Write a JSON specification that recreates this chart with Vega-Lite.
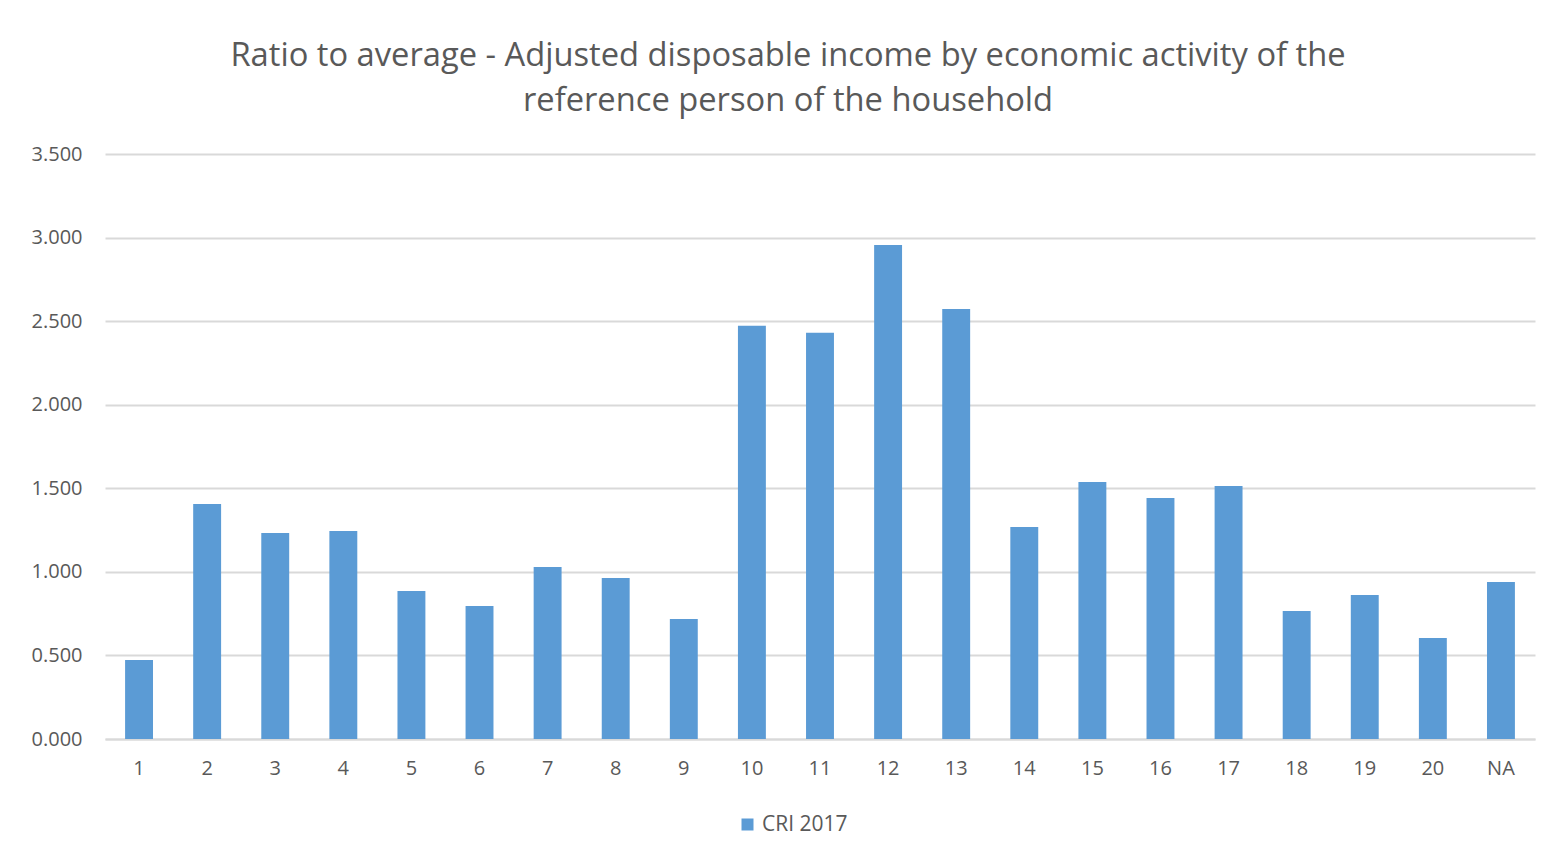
{
  "$schema": "https://vega.github.io/schema/vega-lite/v6.json",
  "autosize": "none",
  "width": 1430,
  "height": 585,
  "padding": {"left": 105, "top": 154, "right": 17, "bottom": 117},
  "background": "white",
  "title": {
    "text": ["Ratio to average - Adjusted disposable income by economic activity of the", "reference person of the household"],
    "font": "Open Sans",
    "fontSize": 32.7,
    "fontWeight": "normal",
    "color": "#595959",
    "anchor": "middle",
    "dx": -32,
    "offset": 26,
    "lineHeight": 45
  },
  "data": {
    "values": [
      {"activity": "1", "value": 0.473, "series": "CRI 2017"},
      {"activity": "2", "value": 1.406, "series": "CRI 2017"},
      {"activity": "3", "value": 1.233, "series": "CRI 2017"},
      {"activity": "4", "value": 1.245, "series": "CRI 2017"},
      {"activity": "5", "value": 0.886, "series": "CRI 2017"},
      {"activity": "6", "value": 0.796, "series": "CRI 2017"},
      {"activity": "7", "value": 1.029, "series": "CRI 2017"},
      {"activity": "8", "value": 0.963, "series": "CRI 2017"},
      {"activity": "9", "value": 0.718, "series": "CRI 2017"},
      {"activity": "10", "value": 2.472, "series": "CRI 2017"},
      {"activity": "11", "value": 2.430, "series": "CRI 2017"},
      {"activity": "12", "value": 2.956, "series": "CRI 2017"},
      {"activity": "13", "value": 2.573, "series": "CRI 2017"},
      {"activity": "14", "value": 1.269, "series": "CRI 2017"},
      {"activity": "15", "value": 1.538, "series": "CRI 2017"},
      {"activity": "16", "value": 1.442, "series": "CRI 2017"},
      {"activity": "17", "value": 1.514, "series": "CRI 2017"},
      {"activity": "18", "value": 0.766, "series": "CRI 2017"},
      {"activity": "19", "value": 0.862, "series": "CRI 2017"},
      {"activity": "20", "value": 0.604, "series": "CRI 2017"},
      {"activity": "NA", "value": 0.940, "series": "CRI 2017"}
    ]
  },
  "mark": {"type": "bar", "color": "#5b9bd5"},
  "encoding": {
    "x": {
      "field": "activity",
      "type": "nominal",
      "sort": null,
      "scale": {"paddingInner": 0.59, "paddingOuter": 0.295},
      "axis": {
        "title": null,
        "labelAngle": 0,
        "labelFont": "Open Sans",
        "labelFontSize": 20,
        "labelColor": "#595959",
        "labelPadding": 19,
        "ticks": false,
        "domainColor": "#d9d9d9",
        "domainWidth": 2,
        "grid": false
      }
    },
    "y": {
      "field": "value",
      "type": "quantitative",
      "scale": {"domain": [0, 3.5], "nice": false},
      "axis": {
        "title": null,
        "values": [0, 0.5, 1, 1.5, 2, 2.5, 3, 3.5],
        "format": ".3f",
        "labelFont": "Open Sans",
        "labelFontSize": 20,
        "labelColor": "#595959",
        "labelPadding": 23,
        "ticks": false,
        "domain": false,
        "grid": true,
        "gridColor": "#d9d9d9",
        "gridWidth": 2
      }
    },
    "fill": {
      "field": "series",
      "type": "nominal",
      "scale": {"range": ["#5b9bd5"]},
      "legend": {
        "title": null,
        "orient": "none",
        "legendX": 632,
        "legendY": 660,
        "symbolType": "square",
        "symbolSize": 144,
        "symbolStrokeWidth": 0,
        "labelFont": "Open Sans",
        "labelFontSize": 21,
        "labelColor": "#595959",
        "labelOffset": 4
      }
    }
  },
  "config": {"view": {"stroke": null}}
}
